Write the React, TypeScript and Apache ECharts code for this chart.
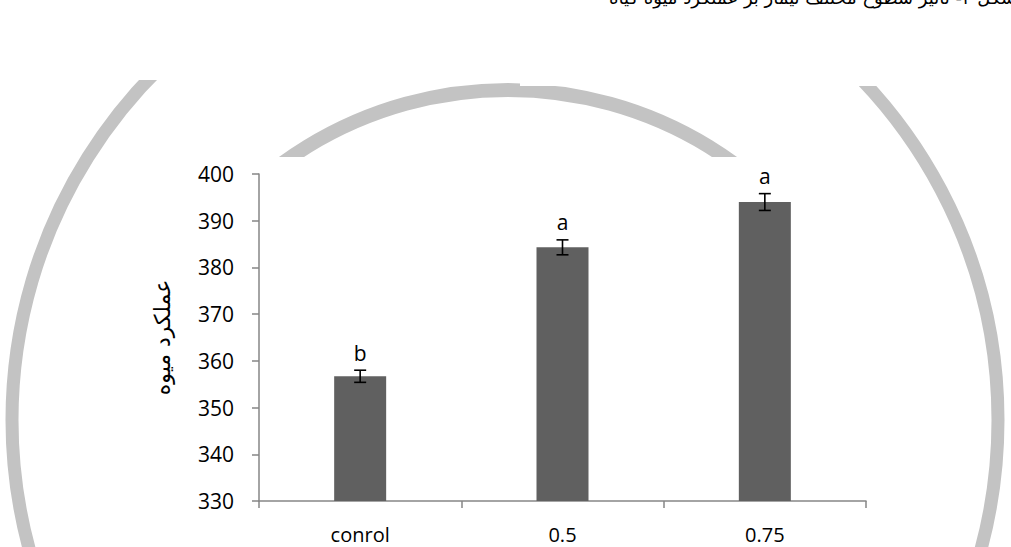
import React, { useEffect, useRef } from "react";
import * as echarts from "echarts";

const categories = ["conrol", "0.5", "0.75"];
const values = [356.7, 384.3, 394.0];
const errors = [1.3, 1.6, 1.8];
const letters = ["b", "a", "a"];
const yTicks = { min: 330, max: 400, interval: 10 };
const yTitle = "عملکرد میوه";
const caption = "شکل ۴- تأثیر سطوح مختلف تیمار بر عملکرد میوه گیاه";

export default function App() {
  const ref = useRef<HTMLDivElement>(null);
  useEffect(() => {
    if (!ref.current) return;
    const chart = echarts.init(ref.current, undefined, { renderer: "svg" });
    const arcColor = "#c3c3c3";
    const option: any = {
      animation: false,
      backgroundColor: "#ffffff",
      graphic: [
        {
          type: "circle",
          z: -20,
          silent: true,
          shape: { cx: 505, cy: 420, r: 493 },
          style: { fill: "none", stroke: arcColor, lineWidth: 13 },
        },
        {
          type: "arc",
          z: -20,
          silent: true,
          shape: { cx: 508, cy: 474, r: 384, startAngle: -Math.PI * 0.85, endAngle: -Math.PI * 0.15, clockwise: true },
          style: { fill: "none", stroke: arcColor, lineWidth: 14 },
        },
        {
          type: "rect",
          z: -10,
          silent: true,
          shape: { x: 0, y: 0, width: 1011, height: 80 },
          style: { fill: "#ffffff" },
        },
        {
          type: "rect",
          z: -10,
          silent: true,
          shape: { x: 520, y: 0, width: 491, height: 86 },
          style: { fill: "#ffffff" },
        },
        {
          type: "rect",
          z: -10,
          silent: true,
          shape: { x: 133, y: 157, width: 769, height: 390 },
          style: { fill: "#ffffff" },
        },
        {
          type: "text",
          z: -5,
          silent: true,
          x: 1016,
          y: -12,
          style: {
            text: caption,
            font: "18px 'DejaVu Sans'",
            fill: "#000000",
            align: "right",
            verticalAlign: "top",
          },
        },
      ],
      grid: { left: 259, right: 145, top: 174, bottom: 46 },
      xAxis: {
        type: "category",
        data: categories,
        boundaryGap: true,
        axisLine: { show: true, lineStyle: { color: "#868686", width: 1.5 } },
        axisTick: { show: true, alignWithLabel: false, length: 7, lineStyle: { color: "#868686", width: 1.5 } },
        axisLabel: { color: "#000000", fontSize: 20, fontFamily: "Open Sans", margin: 23 },
        splitLine: { show: false },
      },
      yAxis: {
        type: "value",
        min: yTicks.min,
        max: yTicks.max,
        interval: yTicks.interval,
        name: yTitle,
        nameLocation: "middle",
        nameRotate: 90,
        nameGap: 86,
        nameTextStyle: { color: "#000000", fontSize: 22, fontFamily: "DejaVu Sans" },
        axisLine: { show: true, lineStyle: { color: "#868686", width: 1.5 } },
        axisTick: { show: true, inside: false, length: 7, lineStyle: { color: "#868686", width: 1.5 } },
        axisLabel: { color: "#000000", fontSize: 21, fontFamily: "Open Sans", margin: 25 },
        splitLine: { show: false },
      },
      series: [
        {
          type: "bar",
          data: values,
          barWidth: 52,
          itemStyle: { color: "#606060" },
          z: 2,
        },
        {
          type: "custom",
          z: 5,
          data: values.map((v, i) => [i, v, errors[i]]),
          renderItem: (params: any, api: any) => {
            const i = api.value(0);
            const v = api.value(1);
            const e = api.value(2);
            const top = api.coord([i, v + e]);
            const bot = api.coord([i, v - e]);
            const cx = top[0];
            const hw = 6;
            const st = { stroke: "#000000", lineWidth: 1.6 };
            return {
              type: "group",
              children: [
                { type: "line", shape: { x1: cx, y1: top[1], x2: cx, y2: bot[1] }, style: st },
                { type: "line", shape: { x1: cx - hw, y1: top[1], x2: cx + hw, y2: top[1] }, style: st },
                { type: "line", shape: { x1: cx - hw, y1: bot[1], x2: cx + hw, y2: bot[1] }, style: st },
                {
                  type: "text",
                  x: cx,
                  y: top[1] - 7,
                  style: {
                    text: letters[params.dataIndex],
                    font: "21px 'Open Sans'",
                    fill: "#000000",
                    align: "center",
                    verticalAlign: "bottom",
                  },
                },
              ],
            };
          },
        },
      ],
    };
    chart.setOption(option);
    return () => chart.dispose();
  }, []);
  return (
    <div
      ref={ref}
      style={{ position: "fixed", left: 0, top: 0, width: 1011, height: 547 }}
    />
  );
}
